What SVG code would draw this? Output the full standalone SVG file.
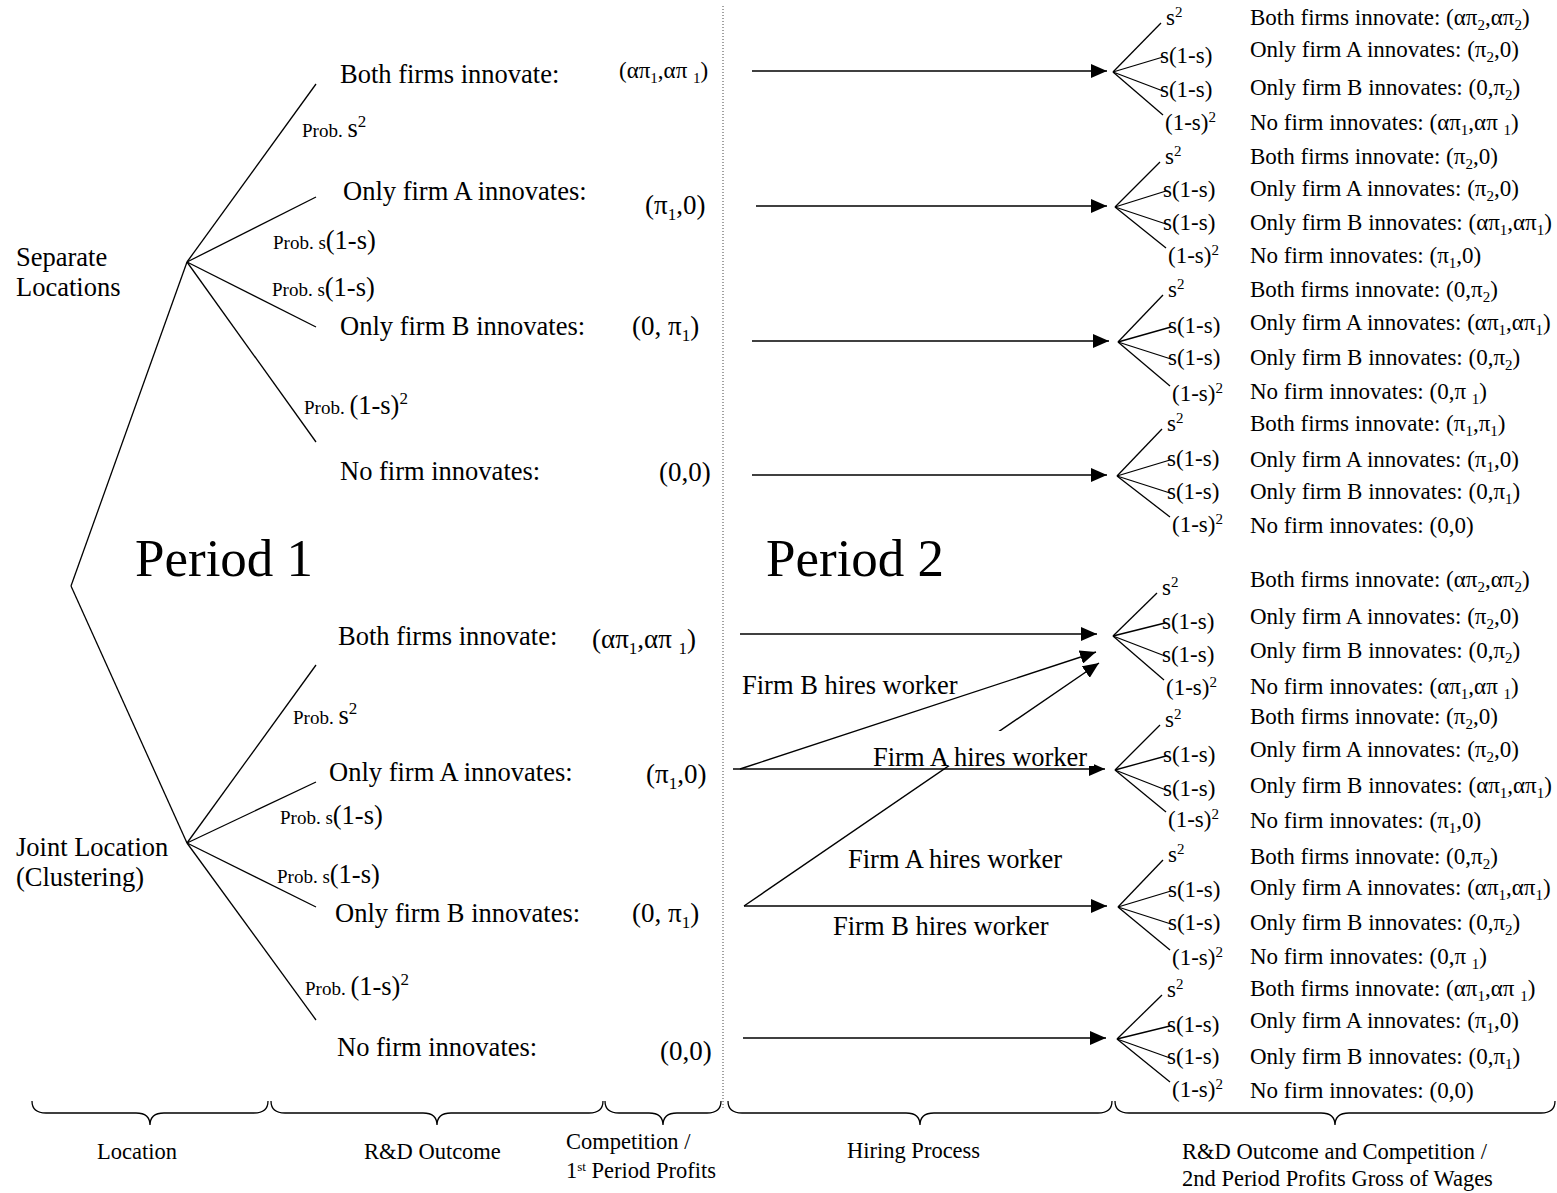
<svg xmlns="http://www.w3.org/2000/svg" width="1557" height="1193" viewBox="0 0 1557 1193">
<defs>
<style>
text { font-family: "Liberation Serif", "Times New Roman", serif; fill: #000; }
.m { font-size: 26.5px; }
.mb { font-size: 27px; }
.ms { font-size: 17px; }
.p22 { font-size: 23px; }
.p22s { font-size: 15px; }
.pb { font-size: 19px; }
.sp { font-size: 17px; }
.r { font-size: 23px; }
.rs { font-size: 15px; }
.per { font-size: 53px; }
.lab { font-size: 22.5px; }
.ln { stroke: #000; stroke-width: 1.3; fill: none; }
.ar { stroke: #000; stroke-width: 1.4; fill: none; marker-end: url(#ah); }
.br { stroke: #000; stroke-width: 1.3; fill: none; }
</style>
<marker id="ah" markerUnits="userSpaceOnUse" viewBox="0 0 16 14" markerWidth="16" markerHeight="14" refX="16" refY="7" orient="auto">
<path d="M0,0 L16,7 L0,14 z" fill="#000"/>
</marker>
</defs>
<rect width="1557" height="1193" fill="#fff"/>

<line x1="723" y1="6" x2="723" y2="1108" stroke="#444" stroke-width="1" stroke-dasharray="1,2"/>

<g id="connectors">
<line class="ln" x1="71" y1="586" x2="187" y2="262"/>
<line class="ln" x1="71" y1="586" x2="187" y2="843"/>
<line class="ln" x1="187" y1="262" x2="316" y2="84"/>
<line class="ln" x1="187" y1="262" x2="316" y2="197"/>
<line class="ln" x1="187" y1="262" x2="316" y2="327"/>
<line class="ln" x1="187" y1="262" x2="316" y2="442"/>
<line class="ln" x1="187" y1="843" x2="316" y2="665"/>
<line class="ln" x1="187" y1="843" x2="316" y2="782"/>
<line class="ln" x1="187" y1="843" x2="316" y2="907"/>
<line class="ln" x1="187" y1="843" x2="316" y2="1020"/>

<line class="ar" x1="752" y1="71" x2="1107" y2="71"/>
<line class="ar" x1="756" y1="206" x2="1107" y2="206"/>
<line class="ar" x1="752" y1="341" x2="1109" y2="341"/>
<line class="ar" x1="752" y1="475" x2="1107" y2="475"/>
<line class="ar" x1="740" y1="634" x2="1097" y2="634"/>
<line class="ar" x1="740" y1="769" x2="1096" y2="652"/>
<line class="ar" x1="744" y1="906" x2="1099" y2="663"/>
<line class="ar" x1="733" y1="769" x2="1105" y2="769"/>
<line class="ar" x1="744" y1="906" x2="1107" y2="906"/>
<line class="ar" x1="743" y1="1038" x2="1106" y2="1038"/>

<g id="fan1">
<line class="ln" x1="1113" y1="72" x2="1161" y2="23"/>
<line class="ln" x1="1113" y1="72" x2="1163" y2="57"/>
<line class="ln" x1="1113" y1="72" x2="1163" y2="91"/>
<line class="ln" x1="1113" y1="72" x2="1163" y2="115"/>
</g>
<g id="fan2">
<line class="ln" x1="1115" y1="207" x2="1160" y2="162"/>
<line class="ln" x1="1115" y1="207" x2="1166" y2="191"/>
<line class="ln" x1="1115" y1="207" x2="1166" y2="224"/>
<line class="ln" x1="1115" y1="207" x2="1166" y2="248"/>
</g>
<g id="fan3">
<line class="ln" x1="1118" y1="342" x2="1163" y2="295"/>
<line class="ln" x1="1118" y1="342" x2="1171" y2="327"/>
<line class="ln" x1="1118" y1="342" x2="1171" y2="359"/>
<line class="ln" x1="1118" y1="342" x2="1170" y2="386"/>
</g>
<g id="fan4">
<line class="ln" x1="1117" y1="476" x2="1162" y2="429"/>
<line class="ln" x1="1117" y1="476" x2="1170" y2="460"/>
<line class="ln" x1="1117" y1="476" x2="1170" y2="493"/>
<line class="ln" x1="1117" y1="476" x2="1170" y2="517"/>
</g>
<g id="fan5">
<line class="ln" x1="1113" y1="636" x2="1157" y2="593"/>
<line class="ln" x1="1113" y1="636" x2="1165" y2="623"/>
<line class="ln" x1="1113" y1="636" x2="1165" y2="656"/>
<line class="ln" x1="1113" y1="636" x2="1164" y2="680"/>
</g>
<g id="fan6">
<line class="ln" x1="1115" y1="770" x2="1160" y2="725"/>
<line class="ln" x1="1115" y1="770" x2="1166" y2="756"/>
<line class="ln" x1="1115" y1="770" x2="1166" y2="790"/>
<line class="ln" x1="1115" y1="770" x2="1166" y2="812"/>
</g>
<g id="fan7">
<line class="ln" x1="1118" y1="907" x2="1163" y2="860"/>
<line class="ln" x1="1118" y1="907" x2="1171" y2="891"/>
<line class="ln" x1="1118" y1="907" x2="1171" y2="924"/>
<line class="ln" x1="1118" y1="907" x2="1170" y2="950"/>
</g>
<g id="fan8">
<line class="ln" x1="1117" y1="1039" x2="1162" y2="995"/>
<line class="ln" x1="1117" y1="1039" x2="1170" y2="1026"/>
<line class="ln" x1="1117" y1="1039" x2="1170" y2="1058"/>
<line class="ln" x1="1117" y1="1039" x2="1170" y2="1082"/>
</g>
</g>

<g id="hiring-labels">
<text class="m" x="742" y="694">Firm B hires worker</text>
<rect x="870" y="731" width="224" height="35" fill="#fff"/>
<text class="m" x="873" y="766">Firm A hires worker</text>
<text class="m" x="848" y="868">Firm A hires worker</text>
<text class="m" x="833" y="935">Firm B hires worker</text>
</g>

<g id="node-separate">
<text class="m" x="16" y="266">Separate</text>
<text class="m" x="16" y="296">Locations</text>
</g>
<g id="node-joint">
<text class="m" x="16" y="856">Joint Location</text>
<text class="m" x="16" y="886">(Clustering)</text>
</g>

<g id="period-labels">
<text class="per" x="135" y="576">Period 1</text>
<text class="per" x="766" y="576">Period 2</text>
</g>

<g id="sep-outcomes">
<text class="m" x="340" y="83">Both firms innovate:</text>
<text class="p22" x="619" y="78">(απ<tspan class="p22s" dy="5">1</tspan><tspan dy="-5">,απ </tspan><tspan class="p22s" dy="5">1</tspan><tspan dy="-5">)</tspan></text>
<text class="pb" x="302" y="137">Prob. <tspan class="m">s</tspan><tspan class="sp" dy="-10">2</tspan></text>
<text class="m" x="343" y="200">Only firm A innovates:</text>
<text class="mb" x="645" y="214">(π<tspan class="ms" dy="6">1</tspan><tspan dy="-6">,0)</tspan></text>
<text class="pb" x="273" y="249">Prob. s<tspan class="m">(1-s)</tspan></text>
<text class="pb" x="272" y="296">Prob. s<tspan class="m">(1-s)</tspan></text>
<text class="m" x="340" y="335">Only firm B innovates:</text>
<text class="mb" x="632" y="335">(0, π<tspan class="ms" dy="6">1</tspan><tspan dy="-6">)</tspan></text>
<text class="pb" x="304" y="414">Prob. <tspan class="m">(1-s)</tspan><tspan class="sp" dy="-10">2</tspan></text>
<text class="m" x="340" y="480">No firm innovates:</text>
<text class="mb" x="659" y="481">(0,0)</text>
</g>

<g id="joint-outcomes">
<text class="m" x="338" y="645">Both firms innovate:</text>
<text class="mb" x="592" y="648">(απ<tspan class="ms" dy="6">1</tspan><tspan dy="-6">,απ </tspan><tspan class="ms" dy="6">1</tspan><tspan dy="-6">)</tspan></text>
<text class="pb" x="293" y="724">Prob. <tspan class="m">s</tspan><tspan class="sp" dy="-10">2</tspan></text>
<text class="m" x="329" y="781">Only firm A innovates:</text>
<text class="mb" x="646" y="783">(π<tspan class="ms" dy="6">1</tspan><tspan dy="-6">,0)</tspan></text>
<text class="pb" x="280" y="824">Prob. s<tspan class="m">(1-s)</tspan></text>
<text class="pb" x="277" y="883">Prob. s<tspan class="m">(1-s)</tspan></text>
<text class="m" x="335" y="922">Only firm B innovates:</text>
<text class="mb" x="632" y="922">(0, π<tspan class="ms" dy="6">1</tspan><tspan dy="-6">)</tspan></text>
<text class="pb" x="305" y="995">Prob. <tspan class="m">(1-s)</tspan><tspan class="sp" dy="-10">2</tspan></text>
<text class="m" x="337" y="1056">No firm innovates:</text>
<text class="mb" x="660" y="1060">(0,0)</text>
</g>

<g id="group1">
<text class="r" x="1166" y="25">s<tspan class="rs" dy="-8">2</tspan></text>
<text class="r" x="1160" y="63">s(1-s)</text>
<text class="r" x="1160" y="97">s(1-s)</text>
<text class="r" x="1165" y="130">(1-s)<tspan class="rs" dy="-8">2</tspan></text>
<text class="r" x="1250" y="25">Both firms innovate: (απ<tspan class="rs" dy="5">2</tspan><tspan dy="-5">,απ</tspan><tspan class="rs" dy="5">2</tspan><tspan dy="-5">)</tspan></text>
<text class="r" x="1250" y="57">Only firm A innovates: (π<tspan class="rs" dy="5">2</tspan><tspan dy="-5">,0)</tspan></text>
<text class="r" x="1250" y="95">Only firm B innovates: (0,π<tspan class="rs" dy="5">2</tspan><tspan dy="-5">)</tspan></text>
<text class="r" x="1250" y="130">No firm innovates: (απ<tspan class="rs" dy="5">1</tspan><tspan dy="-5">,απ </tspan><tspan class="rs" dy="5">1</tspan><tspan dy="-5">)</tspan></text>
</g>

<g id="group2">
<text class="r" x="1165" y="164">s<tspan class="rs" dy="-8">2</tspan></text>
<text class="r" x="1163" y="197">s(1-s)</text>
<text class="r" x="1163" y="230">s(1-s)</text>
<text class="r" x="1168" y="263">(1-s)<tspan class="rs" dy="-8">2</tspan></text>
<text class="r" x="1250" y="164">Both firms innovate: (π<tspan class="rs" dy="5">2</tspan><tspan dy="-5">,0)</tspan></text>
<text class="r" x="1250" y="196">Only firm A innovates: (π<tspan class="rs" dy="5">2</tspan><tspan dy="-5">,0)</tspan></text>
<text class="r" x="1250" y="230">Only firm B innovates: (απ<tspan class="rs" dy="5">1</tspan><tspan dy="-5">,απ</tspan><tspan class="rs" dy="5">1</tspan><tspan dy="-5">)</tspan></text>
<text class="r" x="1250" y="263">No firm innovates: (π<tspan class="rs" dy="5">1</tspan><tspan dy="-5">,0)</tspan></text>
</g>

<g id="group3">
<text class="r" x="1168" y="297">s<tspan class="rs" dy="-8">2</tspan></text>
<text class="r" x="1168" y="333">s(1-s)</text>
<text class="r" x="1168" y="365">s(1-s)</text>
<text class="r" x="1172" y="401">(1-s)<tspan class="rs" dy="-8">2</tspan></text>
<text class="r" x="1250" y="297">Both firms innovate: (0,π<tspan class="rs" dy="5">2</tspan><tspan dy="-5">)</tspan></text>
<text class="r" x="1250" y="330">Only firm A innovates: (απ<tspan class="rs" dy="5">1</tspan><tspan dy="-5">,απ</tspan><tspan class="rs" dy="5">1</tspan><tspan dy="-5">)</tspan></text>
<text class="r" x="1250" y="365">Only firm B innovates: (0,π<tspan class="rs" dy="5">2</tspan><tspan dy="-5">)</tspan></text>
<text class="r" x="1250" y="399">No firm innovates: (0,π <tspan class="rs" dy="5">1</tspan><tspan dy="-5">)</tspan></text>
</g>

<g id="group4">
<text class="r" x="1167" y="431">s<tspan class="rs" dy="-8">2</tspan></text>
<text class="r" x="1167" y="466">s(1-s)</text>
<text class="r" x="1167" y="499">s(1-s)</text>
<text class="r" x="1172" y="532">(1-s)<tspan class="rs" dy="-8">2</tspan></text>
<text class="r" x="1250" y="431">Both firms innovate: (π<tspan class="rs" dy="5">1</tspan><tspan dy="-5">,π</tspan><tspan class="rs" dy="5">1</tspan><tspan dy="-5">)</tspan></text>
<text class="r" x="1250" y="467">Only firm A innovates: (π<tspan class="rs" dy="5">1</tspan><tspan dy="-5">,0)</tspan></text>
<text class="r" x="1250" y="499">Only firm B innovates: (0,π<tspan class="rs" dy="5">1</tspan><tspan dy="-5">)</tspan></text>
<text class="r" x="1250" y="533">No firm innovates: (0,0)</text>
</g>

<g id="group5">
<text class="r" x="1162" y="595">s<tspan class="rs" dy="-8">2</tspan></text>
<text class="r" x="1162" y="629">s(1-s)</text>
<text class="r" x="1162" y="662">s(1-s)</text>
<text class="r" x="1166" y="695">(1-s)<tspan class="rs" dy="-8">2</tspan></text>
<text class="r" x="1250" y="587">Both firms innovate: (απ<tspan class="rs" dy="5">2</tspan><tspan dy="-5">,απ</tspan><tspan class="rs" dy="5">2</tspan><tspan dy="-5">)</tspan></text>
<text class="r" x="1250" y="624">Only firm A innovates: (π<tspan class="rs" dy="5">2</tspan><tspan dy="-5">,0)</tspan></text>
<text class="r" x="1250" y="658">Only firm B innovates: (0,π<tspan class="rs" dy="5">2</tspan><tspan dy="-5">)</tspan></text>
<text class="r" x="1250" y="694">No firm innovates: (απ<tspan class="rs" dy="5">1</tspan><tspan dy="-5">,απ </tspan><tspan class="rs" dy="5">1</tspan><tspan dy="-5">)</tspan></text>
</g>

<g id="group6">
<text class="r" x="1165" y="727">s<tspan class="rs" dy="-8">2</tspan></text>
<text class="r" x="1163" y="762">s(1-s)</text>
<text class="r" x="1163" y="796">s(1-s)</text>
<text class="r" x="1168" y="827">(1-s)<tspan class="rs" dy="-8">2</tspan></text>
<text class="r" x="1250" y="724">Both firms innovate: (π<tspan class="rs" dy="5">2</tspan><tspan dy="-5">,0)</tspan></text>
<text class="r" x="1250" y="757">Only firm A innovates: (π<tspan class="rs" dy="5">2</tspan><tspan dy="-5">,0)</tspan></text>
<text class="r" x="1250" y="793">Only firm B innovates: (απ<tspan class="rs" dy="5">1</tspan><tspan dy="-5">,απ</tspan><tspan class="rs" dy="5">1</tspan><tspan dy="-5">)</tspan></text>
<text class="r" x="1250" y="828">No firm innovates: (π<tspan class="rs" dy="5">1</tspan><tspan dy="-5">,0)</tspan></text>
</g>

<g id="group7">
<text class="r" x="1168" y="862">s<tspan class="rs" dy="-8">2</tspan></text>
<text class="r" x="1168" y="897">s(1-s)</text>
<text class="r" x="1168" y="930">s(1-s)</text>
<text class="r" x="1172" y="965">(1-s)<tspan class="rs" dy="-8">2</tspan></text>
<text class="r" x="1250" y="864">Both firms innovate: (0,π<tspan class="rs" dy="5">2</tspan><tspan dy="-5">)</tspan></text>
<text class="r" x="1250" y="895">Only firm A innovates: (απ<tspan class="rs" dy="5">1</tspan><tspan dy="-5">,απ</tspan><tspan class="rs" dy="5">1</tspan><tspan dy="-5">)</tspan></text>
<text class="r" x="1250" y="930">Only firm B innovates: (0,π<tspan class="rs" dy="5">2</tspan><tspan dy="-5">)</tspan></text>
<text class="r" x="1250" y="964">No firm innovates: (0,π <tspan class="rs" dy="5">1</tspan><tspan dy="-5">)</tspan></text>
</g>

<g id="group8">
<text class="r" x="1167" y="997">s<tspan class="rs" dy="-8">2</tspan></text>
<text class="r" x="1167" y="1032">s(1-s)</text>
<text class="r" x="1167" y="1064">s(1-s)</text>
<text class="r" x="1172" y="1097">(1-s)<tspan class="rs" dy="-8">2</tspan></text>
<text class="r" x="1250" y="996">Both firms innovate: (απ<tspan class="rs" dy="5">1</tspan><tspan dy="-5">,απ </tspan><tspan class="rs" dy="5">1</tspan><tspan dy="-5">)</tspan></text>
<text class="r" x="1250" y="1028">Only firm A innovates: (π<tspan class="rs" dy="5">1</tspan><tspan dy="-5">,0)</tspan></text>
<text class="r" x="1250" y="1064">Only firm B innovates: (0,π<tspan class="rs" dy="5">1</tspan><tspan dy="-5">)</tspan></text>
<text class="r" x="1250" y="1098">No firm innovates: (0,0)</text>
</g>

<g id="stage-braces">
<path class="br" d="M32,1101 C32,1109 36,1113 46,1113 L136,1113 C145,1113 150,1117 150,1125 C150,1117 155,1113 164,1113 L254,1113 C264,1113 268,1109 268,1101"/>
<path class="br" d="M271,1101 C271,1109 275,1113 285,1113 L423,1113 C432,1113 437,1117 437,1125 C437,1117 442,1113 451,1113 L589,1113 C599,1113 603,1109 603,1101"/>
<path class="br" d="M605,1101 C605,1109 609,1113 619,1113 L649,1113 C658,1113 663,1117 663,1125 C663,1117 668,1113 677,1113 L707,1113 C717,1113 721,1109 721,1101"/>
<path class="br" d="M728,1101 C728,1109 732,1113 742,1113 L906,1113 C915,1113 920,1117 920,1125 C920,1117 925,1113 934,1113 L1098,1113 C1108,1113 1112,1109 1112,1101"/>
<path class="br" d="M1115,1101 C1115,1109 1119,1113 1129,1113 L1321,1113 C1330,1113 1335,1117 1335,1125 C1335,1117 1340,1113 1349,1113 L1541,1113 C1551,1113 1555,1109 1555,1101"/>
</g>

<g id="stage-labels">
<text class="lab" x="97" y="1159">Location</text>
<text class="lab" x="364" y="1159">R&amp;D Outcome</text>
<text class="lab" x="566" y="1149">Competition /</text>
<text class="lab" x="566" y="1178">1<tspan font-size="13" dy="-7">st</tspan><tspan dy="7"> Period Profits</tspan></text>
<text class="lab" x="847" y="1158">Hiring Process</text>
<text class="lab" x="1182" y="1159">R&amp;D Outcome and Competition /</text>
<text class="lab" x="1182" y="1186">2nd Period Profits Gross of Wages</text>
</g>
</svg>
